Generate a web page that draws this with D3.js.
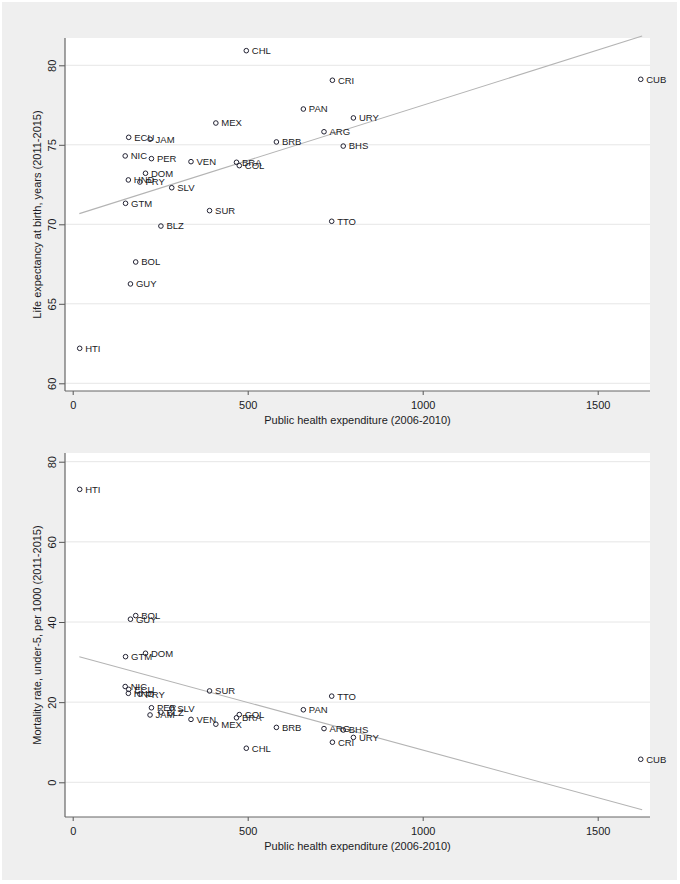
<!DOCTYPE html>
<html>
<head>
<meta charset="utf-8">
<script src="https://cdn.jsdelivr.net/npm/d3@7"></script>
<style>
  html, body { margin: 0; padding: 0; background: #ffffff; }
  svg { display: block; font-family: "Liberation Sans", Arial, sans-serif; }
</style>
</head>
<body>
<svg id="chart" width="680" height="884"></svg>
<script>
// ---- Data ----
const countries = ["HTI","BOL","GUY","GTM","NIC","ECU","HND","PRY","DOM","JAM","PER","BLZ","SLV","VEN","SUR","MEX","BRA","COL","CHL","BRB","PAN","ARG","TTO","CRI","BHS","URY","CUB"];
const healthExp = [20,180,165,151,150,160,159,192,208,221,225,252,283,338,391,409,468,476,496,582,659,718,740,742,773,802,1623];
const lifeExp   = [62.2,67.63,66.25,71.32,74.30,75.47,72.79,72.66,73.21,75.35,74.13,69.89,72.30,73.94,70.86,76.37,73.90,73.69,80.92,75.18,77.25,75.82,70.19,79.06,74.92,76.69,79.12];
const under5    = [73.1,41.6,40.7,31.35,23.9,23.2,22.2,22.0,32.2,16.8,18.6,17.5,18.5,15.7,22.8,14.5,16.1,16.9,8.5,13.7,18.1,13.4,21.5,10.0,13.05,11.2,5.75];
// fitted (linear fit) line end points
const fitX    = [19, 1627];
const fitLife = [70.67, 81.84];
const fitMort = [31.35, -6.84];
// tick values
const xTicks    = [0, 500, 1000, 1500];
const lifeTicks = [60, 65, 70, 75, 80];
const mortTicks = [0, 20, 40, 60, 80];
const xTitle = "Public health expenditure (2006-2010)";
const lifeTitle = "Life expectancy at birth, years (2011-2015)";
const mortTitle = "Mortality rate, under-5, per 1000 (2011-2015)";

// ---- Drawing ----
const svg = d3.select("#chart");
svg.append("rect").attr("x", 2).attr("y", 2).attr("width", 675).attr("height", 878).attr("fill", "#efefef");

const TEXT = "#1b1b24";
const x = d3.scaleLinear().domain([0, 1500]).range([72.7, 597.7]);

function panel(cfg) {
  const { top, bottom, y, yTicks, yVals, fitY, yTitle } = cfg;
  const left = 65, right = 650;
  const g = svg.append("g");
  g.append("rect").attr("x", left).attr("y", top).attr("width", right - left).attr("height", bottom - top).attr("fill", "#ffffff");

  // grid
  g.append("g").selectAll("line").data(yTicks).join("line")
    .attr("x1", left).attr("x2", right)
    .attr("y1", d => y(d)).attr("y2", d => y(d))
    .attr("stroke", "#e6e6e6").attr("stroke-width", 1);

  // fit line
  g.append("path")
    .datum(fitX.map((v, i) => [v, fitY[i]]))
    .attr("d", d3.line().x(d => x(d[0])).y(d => y(d[1])))
    .attr("fill", "none").attr("stroke", "#b4b4b4").attr("stroke-width", 1.1);

  // points
  const pts = countries.map((c, i) => ({ c, xv: healthExp[i], yv: yVals[i] }));
  g.append("g").selectAll("circle").data(pts).join("circle")
    .attr("cx", d => x(d.xv)).attr("cy", d => y(d.yv)).attr("r", 2.3)
    .attr("fill", "none").attr("stroke", "#222233").attr("stroke-width", 1);
  g.append("g").selectAll("text").data(pts).join("text")
    .attr("x", d => x(d.xv) + 5.5).attr("y", d => y(d.yv)).attr("dy", "0.36em")
    .attr("font-size", "9.5px").attr("fill", TEXT).text(d => d.c);

  // y axis
  const ya = g.append("g").attr("transform", `translate(${left},0)`)
    .call(d3.axisLeft(y).tickValues(yTicks).tickFormat(d3.format("d")).tickSize(6).tickSizeOuter(0));
  ya.select(".domain").remove();
  ya.selectAll(".tick line").attr("stroke", "#555");
  ya.selectAll(".tick text")
    .attr("transform", "rotate(-90)").attr("x", 0).attr("y", -9).attr("dy", 0)
    .attr("text-anchor", "middle").attr("font-size", "11px").attr("fill", TEXT)
    .attr("font-family", "Liberation Sans, Arial, sans-serif");

  // x axis
  const xa = g.append("g").attr("transform", `translate(0,${bottom})`)
    .call(d3.axisBottom(x).tickValues(xTicks).tickFormat(d3.format("d")).tickSize(4).tickSizeOuter(0));
  xa.select(".domain").remove();
  xa.selectAll(".tick line").attr("stroke", "#555");
  xa.selectAll(".tick text").attr("y", 18).attr("dy", 0)
    .attr("font-size", "11px").attr("fill", TEXT)
    .attr("font-family", "Liberation Sans, Arial, sans-serif");

  // axis lines
  g.append("line").attr("x1", left).attr("x2", left).attr("y1", top).attr("y2", bottom)
    .attr("stroke", "#666").attr("stroke-width", 1.2);
  g.append("line").attr("x1", left).attr("x2", right).attr("y1", bottom).attr("y2", bottom)
    .attr("stroke", "#666").attr("stroke-width", 1.2);

  // titles
  g.append("text").attr("x", (left + right) / 2).attr("y", bottom + 33)
    .attr("text-anchor", "middle").attr("font-size", "11px").attr("fill", TEXT).text(xTitle);
  g.append("text").attr("transform", `translate(41,${(top + bottom) / 2}) rotate(-90)`)
    .attr("text-anchor", "middle").attr("font-size", "11px").attr("fill", TEXT).text(yTitle);
}

panel({
  top: 38, bottom: 391,
  y: d3.scaleLinear().domain([60, 80]).range([383.3, 65.3]),
  yTicks: lifeTicks, yVals: lifeExp, fitY: fitLife, yTitle: lifeTitle
});
panel({
  top: 453, bottom: 817,
  y: d3.scaleLinear().domain([0, 80]).range([782.3, 461.7]),
  yTicks: mortTicks, yVals: under5, fitY: fitMort, yTitle: mortTitle
});
</script>
</body>
</html>
